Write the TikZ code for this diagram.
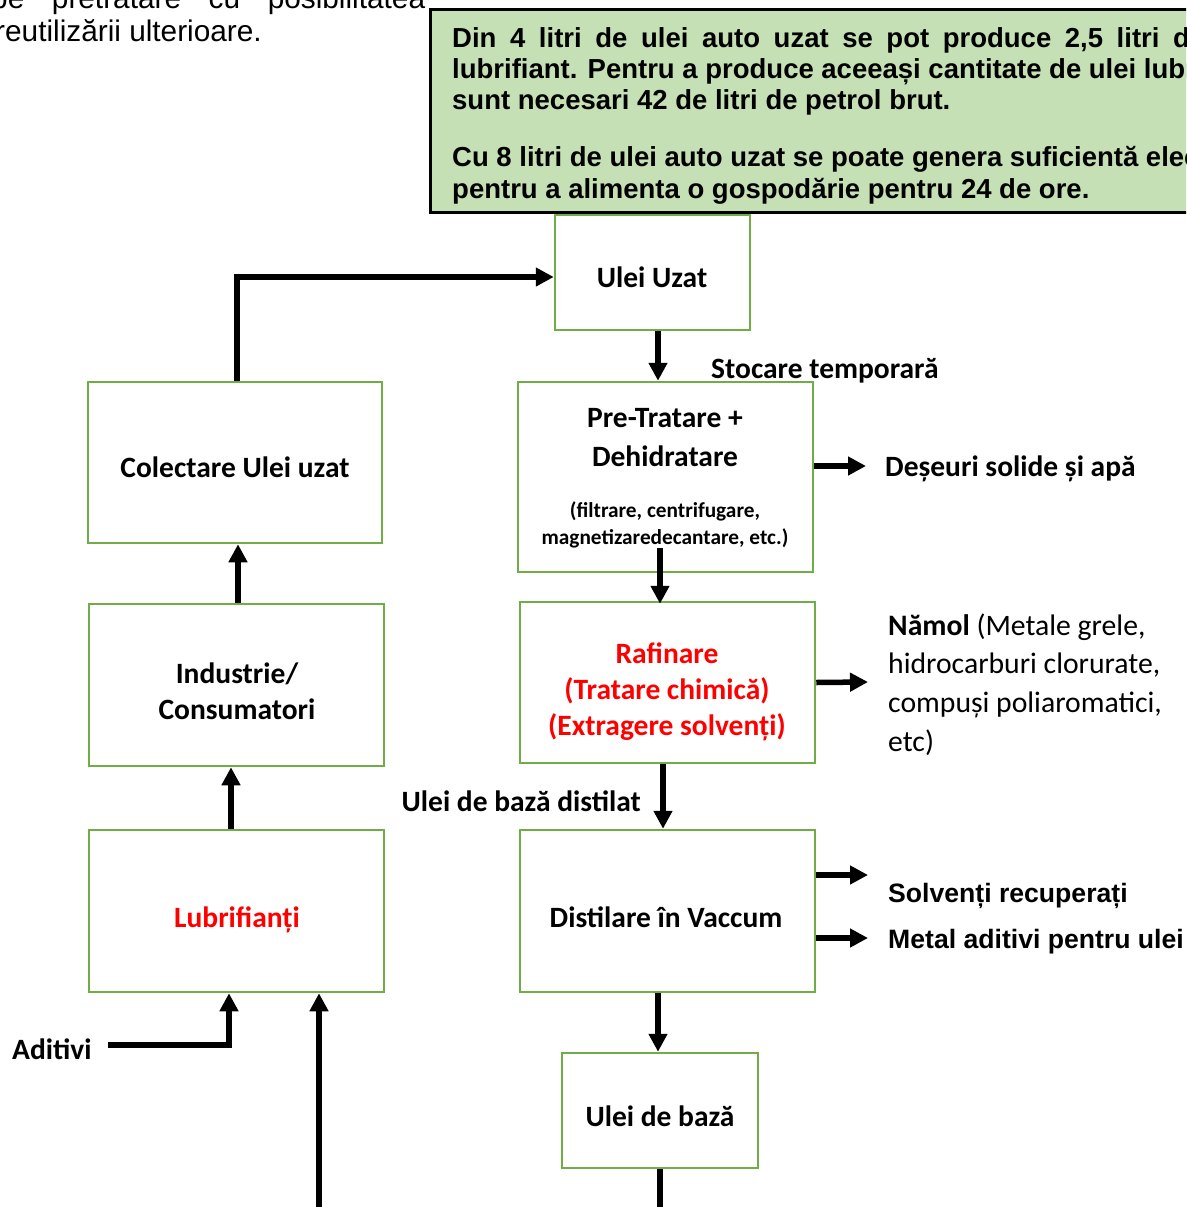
\documentclass[tikz,border=0pt]{standalone}
\usepackage{fontspec}
\setmainfont{Carlito}
\newfontfamily\arialf{Liberation Sans}
\newfontfamily\narrowf{Liberation Sans}
\usetikzlibrary{arrows.meta}
\definecolor{boxgreen}{HTML}{70AD47}
\definecolor{notefill}{HTML}{C5E0B4}
\definecolor{redtext}{HTML}{FF0000}
\begin{document}
\begin{tikzpicture}[x=1pt,y=-1pt,
  box/.style={draw=boxgreen,line width=2.5pt,inner sep=0pt,fill=white},
  lbl/.style={font=\fontsize{29.5}{34}\selectfont\bfseries,inner sep=0pt,anchor=base},
  lblw/.style={lbl,anchor=base west},
  small/.style={font=\fontsize{21.3}{25}\selectfont\bfseries,inner sep=0pt,anchor=base},
  plain/.style={font=\fontsize{29.7}{34}\selectfont,inner sep=0pt,anchor=base west},
  ariallbl/.style={font=\arialf\fontsize{26.6}{30}\selectfont\bfseries,inner sep=0pt,anchor=base west},
  notetxt/.style={font=\narrowf\fontsize{27.5}{31}\selectfont\bfseries,inner sep=0pt,anchor=base west},
  arr/.style={line width=5.5pt,-{Triangle[length=18pt,width=18pt]}},
  red/.style={text=redtext}]
\useasboundingbox (0,0) rectangle (1186,1207);
\fill[white] (0,0) rectangle (1186,1207);
\clip (0,0) rectangle (1186,1207);

% top-left running text
\node[inner sep=0pt,anchor=base west,font=\arialf\fontsize{29.8}{33}\selectfont] (topA) at (-9,9)
  {\hbox to 434pt{pe\hfill pretratare\hfill cu\hfill posibilitatea}};
\node[inner sep=0pt,anchor=base west,font=\arialf\fontsize{29.8}{33}\selectfont] (topB) at (-5,42)
  {reutilizării ulterioare.};

% green note
\node[draw=black,fill=notefill,line width=3pt,minimum width=800pt,minimum height=203pt,inner sep=0pt] (note) at (830,111) {};
\node[notetxt] (n1) at (452,47.5) {\hbox to 753pt{Din\hfill 4\hfill litri\hfill de\hfill ulei\hfill auto\hfill uzat\hfill se\hfill pot\hfill produce\hfill 2,5\hfill litri\hfill de}};
\node[notetxt] (n2) at (452,78.5) {lubrifiant. Pentru a produce aceeași cantitate de ulei lubrifiant,};
\node[notetxt] (n3) at (452,109.5) {sunt necesari 42 de litri de petrol brut.};
\node[notetxt] (n4) at (452,166.5) {Cu 8 litri de ulei auto uzat se poate genera suficientă electricitate};
\node[notetxt] (n5) at (452,198.5) {pentru a alimenta o gospodărie pentru 24 de ore.};

% boxes
\node[box,minimum width=195pt,minimum height=115pt] (uzat) at (652.5,272.5) {};
\node[box,minimum width=295pt,minimum height=190pt] (pre) at (665.5,477) {};
\node[box,minimum width=294pt,minimum height=161pt] (colect) at (235,462.5) {};
\node[box,minimum width=295pt,minimum height=162pt] (ind) at (236.5,685) {};
\node[box,minimum width=295pt,minimum height=161pt] (raf) at (667.5,682.5) {};
\node[box,minimum width=295pt,minimum height=162pt] (lub) at (236.5,911) {};
\node[box,minimum width=295pt,minimum height=162pt] (dist) at (667.5,911) {};
\node[box,minimum width=196pt,minimum height=115pt] (baza) at (660,1110.5) {};

% box texts
\node[lbl] (tuzat) at (652,287.5) {Ulei Uzat};
\node[lbl] (tpre1) at (665,427.5) {Pre-Tratare +};
\node[lbl] (tpre2) at (665,466.5) {Dehidratare};
\node[small] (tpre3) at (665,517) {(filtrare, centrifugare,};
\node[small] (tpre4) at (665,544) {magnetizaredecantare, etc.)};
\node[lbl] (tcol) at (235,477.5) {Colectare Ulei uzat};
\node[lbl] (tind1) at (237,683.5) {Industrie/};
\node[lbl] (tind2) at (237,719.5) {Consumatori};
\node[lbl,red] (traf1) at (667,663.5) {Rafinare};
\node[lbl,red] (traf2) at (667,699.5) {(Tratare chimică)};
\node[lbl,red] (traf3) at (667,735.5) {(Extragere solvenți)};
\node[lbl,red] (tlub) at (237,927.5) {Lubrifianți};
\node[lbl] (tdist) at (666,927.5) {Distilare în Vaccum};
\node[lbl] (tbaza) at (660,1126.5) {Ulei de bază};

% side labels
\node[lblw] (stoc) at (711,378.5) {Stocare temporară};
\node[lblw] (deseuri) at (885,476.5) {Deșeuri solide și apă};
\node[plain] (nam1) at (888,635) {\textbf{Nămol} (Metale grele,};
\node[plain] (nam2) at (888,673) {hidrocarburi clorurate,};
\node[plain] (nam3) at (888,712) {compuși poliaromatici,};
\node[plain] (nam4) at (888,751) {etc)};
\node[lbl,anchor=base east] (distil) at (641,811.5) {Ulei de bază distilat};
\node[ariallbl] (solv) at (888,902.5) {Solvenți recuperați};
\node[ariallbl] (metal) at (888,948.5) {Metal aditivi pentru ulei};
\node[lblw] (adit) at (12,1059.5) {Aditivi};

% free-end coordinates
\coordinate (eDes) at (866,466);
\coordinate (eNam) at (868,682);
\coordinate (eSolv) at (868,875);
\coordinate (eMet) at (868,938);
\coordinate (bot) at (319,1209.5);
\coordinate (adStart) at (108,1045);

% connectors
\draw[arr] ([xshift=2pt]colect.north) |- ([yshift=-4.5pt]uzat.west);
\draw[arr] ([xshift=5.5pt]uzat.south) -- ([xshift=-7.5pt]pre.north);
\draw[arr] ([yshift=11pt]pre.east) -- (eDes);
\draw[arr] ([xshift=-5.5pt,yshift=25pt]pre.south) -- ([xshift=-7.5pt,yshift=-3pt]raf.north);
\draw[arr] (raf.east) -- (eNam);
\draw[arr] ([xshift=-4.5pt]raf.south) -- ([xshift=-4.5pt]dist.north);
\draw[arr] ([yshift=36pt]dist.east) -- (eSolv);
\draw[arr] ([yshift=-27pt]dist.east) -- (eMet);
\draw[arr] ([xshift=-9.5pt]dist.south) -- ([xshift=-2pt]baza.north);
\draw[arr] (baza.south) |- (bot) -- ([xshift=82.5pt]lub.south);
\draw[arr] (adStart) -| ([xshift=-7.5pt]lub.south);
\draw[arr] ([xshift=-5.5pt]lub.north) -- ([xshift=-5.5pt]ind.south);
\draw[arr] ([xshift=1.5pt]ind.north) -- ([xshift=3pt]colect.south);
\end{tikzpicture}
\end{document}
